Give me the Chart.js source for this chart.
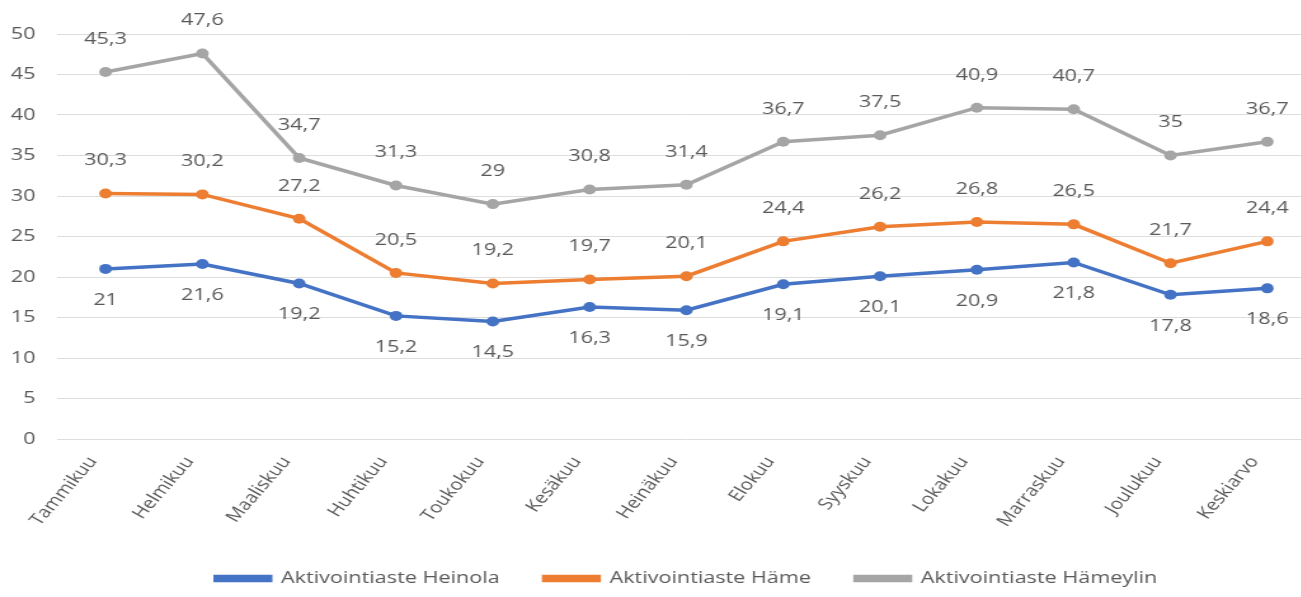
<!DOCTYPE html>
<html>
<head>
<meta charset="utf-8">
<script src="https://cdn.jsdelivr.net/npm/chart.js@4/dist/chart.umd.min.js"></script>
<style>
    html, body { margin: 0; padding: 0; background: #fff; overflow: hidden; }
    /* alkuperäinen kuva on venytetty vaakasuunnassa */
    #wrap { width: 1041px; height: 597px; transform: scaleX(1.27); transform-origin: 0 0; }
</style>
</head>
<body>
<div id="wrap"><canvas id="aktivointi" width="1041" height="597"></canvas></div>
<script>
// kuukaudet ja sarjat
const months = ['Tammikuu', 'Helmikuu', 'Maaliskuu', 'Huhtikuu', 'Toukokuu', 'Kesäkuu', 'Heinäkuu',
    'Elokuu', 'Syyskuu', 'Lokakuu', 'Marraskuu', 'Joulukuu', 'Keskiarvo'];
const heinola = [21, 21.6, 19.2, 15.2, 14.5, 16.3, 15.9, 19.1, 20.1, 20.9, 21.8, 17.8, 18.6];
const hame = [30.3, 30.2, 27.2, 20.5, 19.2, 19.7, 20.1, 24.4, 26.2, 26.8, 26.5, 21.7, 24.4];
const hameylin = [45.3, 47.6, 34.7, 31.3, 29, 30.8, 31.4, 36.7, 37.5, 40.9, 40.7, 35, 36.7];
const yTicks = [0, 5, 10, 15, 20, 25, 30, 35, 40, 45, 50];

const textColor = '#595959';
const fontFamily = '"Open Sans", "Liberation Sans", sans-serif';

// arvot pisteiden viereen (ylös / alas)
const valueLabels = {
    id: 'valueLabels',
    afterDatasetsDraw(chart) {
        const ctx = chart.ctx;
        ctx.save();
        ctx.font = '17px ' + fontFamily;
        ctx.fillStyle = textColor;
        ctx.textAlign = 'center';
        ctx.textBaseline = 'middle';
        chart.data.datasets.forEach(function (ds, i) {
            const meta = chart.getDatasetMeta(i);
            meta.data.forEach(function (pt, j) {
                const txt = String(ds.data[j]).replace('.', ',');
                const dy = ds.labelBelow ? 31 : -33;
                ctx.fillText(txt, pt.x, pt.y + dy);
            });
        });
        ctx.restore();
    }
};

function lineSet(label, data, color, below) {
    return {
        label: label,
        data: data,
        borderColor: color,
        backgroundColor: color,
        borderWidth: 3.5,
        pointRadius: 5,
        pointBorderWidth: 0,
        pointBackgroundColor: color,
        tension: 0,
        fill: false,
        labelBelow: below
    };
}

const config = {
    type: 'line',
    data: {
        labels: months,
        datasets: [
            lineSet('Aktivointiaste Heinola', heinola, '#4472C4', true),
            lineSet('Aktivointiaste Häme', hame, '#ED7D31', false),
            lineSet('Aktivointiaste Hämeylin', hameylin, '#A5A5A5', false)
        ]
    },
    options: {
        responsive: false,
        animation: false,
        layout: {
            padding: { top: 34, right: 2, bottom: 0, left: 0 }
        },
        plugins: {
            tooltip: { enabled: false },
            legend: {
                position: 'bottom',
                align: 'center',
                fullSize: false,
                labels: {
                    color: textColor,
                    boxWidth: 43,
                    boxHeight: 4,
                    padding: 35,
                    font: { size: 17, family: fontFamily }
                }
            }
        },
        scales: {
            x: {
                offset: true,
                grid: { display: false },
                border: { display: false },
                ticks: {
                    color: textColor,
                    maxRotation: 55,
                    minRotation: 55,
                    padding: 6,
                    labelOffset: -10,
                    font: { size: 16, family: fontFamily }
                },
                afterFit: function (scale) { scale.height = 96; }
            },
            y: {
                min: 0,
                max: 50,
                afterBuildTicks: function (scale) {
                    scale.ticks = yTicks.map(function (v) { return { value: v }; });
                },
                grid: { color: '#DDDDDD', lineWidth: 1, drawTicks: false },
                border: { display: false },
                ticks: {
                    color: textColor,
                    padding: 17,
                    font: { size: 17, family: fontFamily }
                },
                afterFit: function (scale) { scale.width = 45; }
            }
        }
    },
    plugins: [valueLabels]
};

var ctx = document.getElementById('aktivointi').getContext('2d');
var chart = new Chart(ctx, config);
</script>
</body>
</html>
